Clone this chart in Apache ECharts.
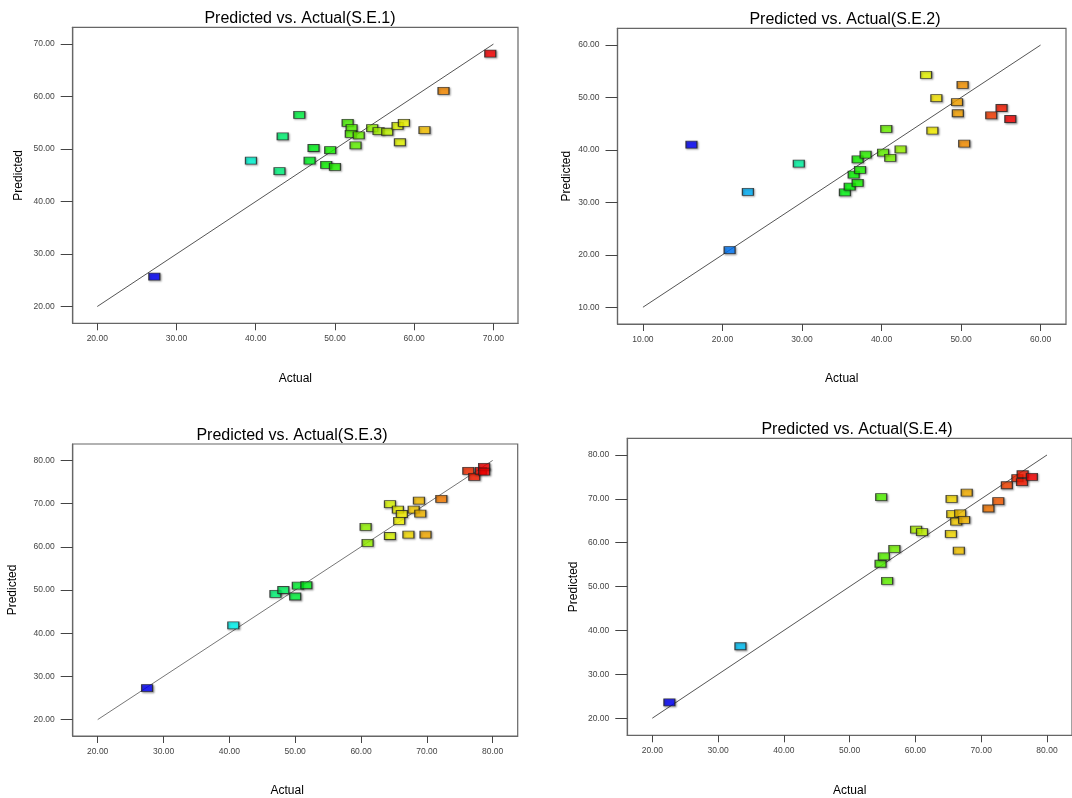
<!DOCTYPE html>
<html>
<head>
<meta charset="utf-8">
<title>Predicted vs. Actual</title>
<script src="https://cdn.jsdelivr.net/npm/echarts@6/dist/echarts.min.js"></script>
<style>
  html, body { margin: 0; padding: 0; background: #fff; }
  #chart { width: 1072px; height: 798px; }
</style>
</head>
<body>
<div id="chart"></div>
<script>
// S.E.1
const actual1 = [27.2, 39.4, 43.0, 43.4, 45.5, 46.8, 47.3, 48.9, 49.4, 50.0, 51.6, 52.1, 52.0, 53.0, 52.6, 54.7, 55.5, 56.6, 57.9, 58.7, 58.2, 61.3, 63.7, 69.6]
const predicted1 = [25.7, 47.8, 45.8, 52.4, 56.5, 47.8, 50.2, 47.0, 49.8, 46.6, 55.0, 54.0, 52.9, 52.6, 50.7, 54.0, 53.4, 53.3, 54.4, 55.0, 51.3, 53.6, 61.1, 68.2]
const ticks1 = [20, 30, 40, 50, 60, 70]

// S.E.2
const actual2 = [16.1, 20.9, 23.2, 29.6, 35.4, 36.0, 37.0, 36.5, 37.3, 37.0, 38.0, 40.2, 41.1, 42.4, 40.6, 45.6, 46.9, 46.4, 49.5, 49.6, 50.2, 50.4, 53.8, 55.1, 56.2]
const predicted2 = [41.0, 20.9, 32.0, 37.4, 31.9, 33.0, 33.7, 35.3, 36.2, 38.2, 39.1, 39.5, 38.5, 40.1, 44.0, 54.3, 49.9, 43.7, 49.1, 47.0, 52.4, 41.2, 46.6, 48.0, 45.9]
const ticks2 = [10, 20, 30, 40, 50, 60]

// S.E.3
const actual3 = [27.5, 40.6, 47.0, 48.2, 50.0, 50.4, 51.7, 60.7, 61.0, 64.4, 65.6, 66.2, 65.8, 64.4, 67.2, 68.0, 68.8, 69.0, 69.8, 72.2, 76.3, 77.2, 78.2, 78.7, 78.7]
const predicted3 = [27.3, 41.8, 49.1, 50.0, 48.5, 51.0, 51.1, 64.6, 60.9, 69.9, 68.6, 67.6, 66.0, 62.5, 62.8, 68.6, 70.7, 67.7, 62.8, 71.1, 77.6, 76.2, 77.6, 78.5, 77.4]
const ticks3 = [20, 30, 40, 50, 60, 70, 80]

// S.E.4
const actual4 = [22.6, 33.4, 54.8, 54.7, 55.2, 56.8, 55.7, 60.1, 61.0, 65.4, 66.6, 65.5, 67.8, 65.6, 66.8, 66.2, 67.4, 71.1, 72.6, 73.9, 75.5, 76.3, 76.2, 77.7]
const predicted4 = [23.6, 36.4, 70.4, 55.2, 56.9, 58.6, 51.3, 63.0, 62.4, 62.0, 58.2, 70.0, 71.4, 66.5, 66.7, 64.8, 65.2, 67.8, 69.5, 73.1, 74.7, 75.6, 73.8, 75.0]
const ticks4 = [20, 30, 40, 50, 60, 70, 80]

const titles = ['Predicted vs. Actual(S.E.1)', 'Predicted vs. Actual(S.E.2)', 'Predicted vs. Actual(S.E.3)', 'Predicted vs. Actual(S.E.4)']

const panels = [
  { actual: actual1, predicted: predicted1, ticks: ticks1, range: [16.9, 73.1], yRange: [16.8, 73.2],
    grid: { left: 72.7, top: 27.3, width: 445.3, height: 296 }, title: [295, 6], yGap: 48, xShift: 0, lineColor: '#555' },
  { actual: actual2, predicted: predicted2, ticks: ticks2, range: [6.8, 63.2], yRange: [6.8, 63.2],
    grid: { left: 617.5, top: 28.3, width: 448.5, height: 295.7 }, title: [840, 7], yGap: 45, xShift: 0, lineColor: '#555' },
  { actual: actual3, predicted: predicted3, ticks: ticks3, range: [16.2, 83.8], yRange: [16.2, 83.8],
    grid: { left: 72.7, top: 444, width: 445, height: 292 }, title: [287, 423], yGap: 54, xShift: 16, lineColor: '#777' },
  { actual: actual4, predicted: predicted4, ticks: ticks4, range: [16.2, 83.8], yRange: [16.1, 83.8],
    grid: { left: 627.3, top: 438.3, width: 450.7, height: 297 }, title: [852, 417], yGap: 48, xShift: 0, lineColor: '#555' }
]

const jet = ['#0000ff', '#00ffff', '#00ff00', '#ffff00', '#ff0000']
const fmt = v => Number(v).toFixed(2)

const grid = []
const xAxis = []
const yAxis = []
const series = []
const visualMap = []
const title = []

panels.forEach((p, i) => {
  grid.push({ ...p.grid, show: true, borderColor: '#666', borderWidth: 1.2, backgroundColor: '#fff' })

  title.push({
    text: titles[i],
    left: p.title[0],
    top: p.title[1],
    textAlign: 'center',
    textStyle: { fontSize: 16, fontWeight: 'normal', color: '#000', fontFamily: 'Liberation Sans, Arial, sans-serif' }
  })

  xAxis.push({
    gridIndex: i,
    type: 'value',
    min: p.range[0],
    max: p.range[1],
    name: 'Actual',
    nameLocation: 'middle',
    nameGap: 49,
    nameTextStyle: { fontSize: 12, color: '#000', padding: [0, p.xShift, 0, 0] },
    axisLine: { show: true, lineStyle: { color: '#666', width: 1.2 } },
    axisTick: { show: true, length: 7, customValues: p.ticks, lineStyle: { color: '#444' } },
    axisLabel: { customValues: p.ticks, formatter: fmt, fontSize: 8.5, color: '#444', margin: 11 },
    splitLine: { show: false }
  })

  yAxis.push({
    gridIndex: i,
    type: 'value',
    min: p.yRange[0],
    max: p.yRange[1],
    name: 'Predicted',
    nameLocation: 'middle',
    nameGap: p.yGap,
    nameTextStyle: { fontSize: 12, color: '#000' },
    axisLine: { show: true, lineStyle: { color: '#666', width: 1.2 } },
    axisTick: { show: true, length: 12, customValues: p.ticks, lineStyle: { color: '#444' } },
    axisLabel: { customValues: p.ticks, formatter: fmt, fontSize: 8.5, color: '#444', margin: 18 },
    splitLine: { show: false }
  })

  const lo = p.ticks[0]
  const hi = p.ticks[p.ticks.length - 1]
  series.push({
    type: 'line',
    xAxisIndex: i,
    yAxisIndex: i,
    data: [[lo, lo], [hi, hi]],
    symbol: 'none',
    silent: true,
    lineStyle: { color: p.lineColor, width: 1 },
    z: 2
  })

  series.push({
    type: 'scatter',
    xAxisIndex: i,
    yAxisIndex: i,
    symbol: 'rect',
    symbolSize: [11, 7],
    data: p.actual.map((a, k) => [a, p.predicted[k]]),
    itemStyle: {
      borderColor: '#222',
      borderWidth: 1,
      shadowColor: 'rgba(0, 0, 0, 0.4)',
      shadowBlur: 2,
      shadowOffsetX: 1,
      shadowOffsetY: 1
    },
    z: 3
  })

  visualMap.push({
    type: 'continuous',
    show: false,
    seriesIndex: series.length - 1,
    dimension: 0,
    min: Math.min(...p.actual),
    max: Math.max(...p.actual),
    inRange: { color: jet }
  })
})

const chart = echarts.init(document.getElementById('chart'), null, { renderer: 'canvas' })
chart.setOption({
  animation: false,
  backgroundColor: '#fff',
  textStyle: { fontFamily: 'Liberation Sans, Arial, sans-serif' },
  title,
  grid,
  xAxis,
  yAxis,
  visualMap,
  series
})
</script>
</body>
</html>
